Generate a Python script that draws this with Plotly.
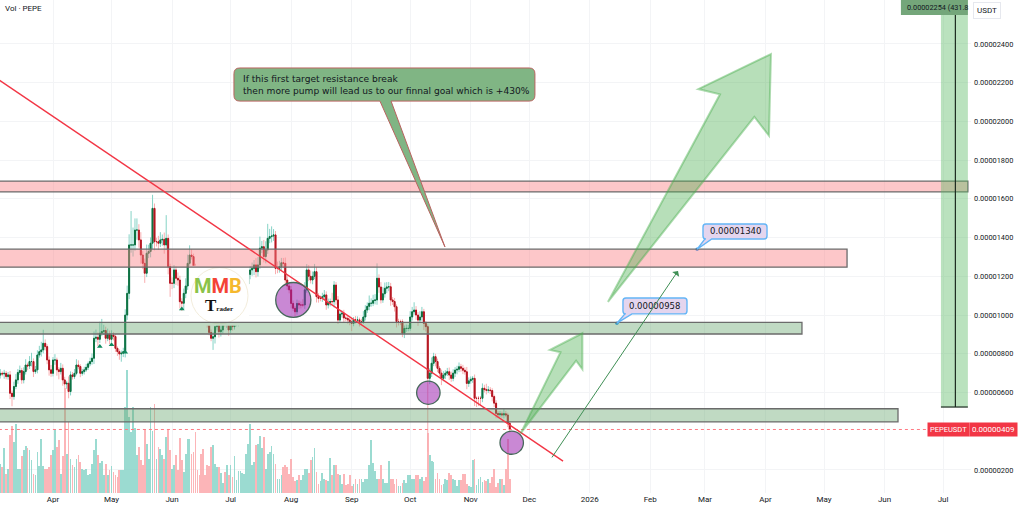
import plotly.graph_objects as go
import pandas as pd

# prices are in units of 0.00000001 USDT
BASE = pd.Timestamp("2025-03-05")
ORIGIN = pd.Timestamp("2025-04-01")

close = [
 699,696,699,682,691,596,579,631,665,703,
 713,665,708,742,737,760,760,708,717,794,
 811,820,854,837,768,717,699,768,768,717,
 708,725,665,644,648,605,691,682,699,742,
 734,699,708,717,730,748,760,777,880,885,
 875,906,915,920,880,902,875,897,889,828,
 811,799,803,811,1000,1112,1362,1362,1362,1439,
 1439,1388,1310,1267,1216,1319,1328,1371,1551,1379,
 1379,1371,1388,1391,1362,1396,1250,1164,1164,1233,
 1190,1181,1069,1061,1112,1150,1267,1310,1302,1250,
 1190,1130,1100,1060,1020,990,950,910,880,888,
 940,957,914,923,957,954,957,923,957,940,
 957,957,1000,1040,1080,1120,1160,1210,1233,1241,
 1259,1224,1259,1345,1353,1302,1336,1396,1405,1408,
 1414,1241,1241,1250,1270,1267,1181,1150,1130,1060,
 1035,1017,1060,1052,1052,1052,1130,1233,1200,1181,
 1200,1224,1095,1086,1086,1095,1104,1052,1065,1070,
 1069,1155,1078,974,1005,1009,985,983,975,965,
 957,975,974,975,966,966,990,1026,1045,1061,
 1061,1075,1078,1190,1145,1078,1110,1138,1145,1146,
 1078,1070,1043,966,966,966,906,931,931,931,
 990,1017,1026,1000,974,990,1017,957,940,673,
 700,751,785,760,725,700,673,690,700,707,
 690,673,700,716,720,733,725,715,707,647,
 660,668,673,570,570,570,570,622,615,612,
 613,610,579,545,492,485,490,484,490,484,
 441,409,
]
first_open = 690

upper_wick = [
 22,10,18,12,15,20,14,25,30,18,
 26,14,22,30,12,28,45,16,20,24,
 30,42,70,20,12,18,25,15,30,12,
 14,28,20,16,12,35,18,15,22,30,
 24,12,14,16,18,12,20,25,35,40,
 25,60,65,30,20,28,18,24,14,12,
 10,12,14,20,30,40,55,175,90,60,
 60,30,40,20,25,45,35,30,70,25,
 20,30,40,25,35,120,20,15,30,25,
 18,30,22,18,25,40,45,50,30,15,
 15,15,15,15,15,15,15,15,15,25,
 20,25,20,25,30,20,15,20,15,25,
 20,15,15,15,15,15,15,15,20,30,
 25,35,40,60,30,35,45,75,40,50,
 30,20,35,30,25,25,30,25,18,20,
 15,12,20,15,18,30,40,30,25,30,
 25,40,25,18,15,20,25,18,20,15,
 45,20,15,20,18,15,18,12,15,12,
 18,15,20,18,12,15,30,25,20,40,
 25,30,30,77,20,25,35,30,25,25,
 20,15,18,12,15,10,12,15,20,18,
 30,25,40,20,15,30,25,15,12,12,
 25,30,20,15,15,12,18,20,15,20,
 22,18,20,15,18,22,15,18,15,25,
 18,15,12,20,10,12,12,25,18,30,
 20,15,12,10,15,12,15,12,25,15,
 12,10,
]
lower_wick = [
 18,12,25,14,16,30,50,16,14,20,
 12,20,18,15,22,16,25,28,12,18,
 14,25,18,20,22,30,18,16,25,30,
 40,15,30,20,25,35,20,15,12,10,
 14,20,12,15,10,14,12,16,30,20,
 35,20,15,18,28,15,25,14,20,18,
 22,30,40,20,30,25,30,40,60,30,
 50,40,45,30,50,20,25,30,30,45,
 25,35,20,30,45,25,40,70,30,25,
 35,30,35,40,30,25,20,30,15,15,
 15,15,15,15,15,15,15,15,15,60,
 35,20,30,25,18,15,20,30,15,20,
 15,15,15,15,15,15,15,15,25,30,
 35,30,25,20,25,30,35,20,25,30,
 25,30,25,22,18,25,30,20,18,25,
 15,22,15,20,18,12,20,15,25,18,
 22,15,30,22,15,18,15,25,18,20,
 15,30,25,20,15,18,25,15,20,18,
 40,15,18,12,25,15,12,18,15,20,
 18,15,20,25,30,18,15,20,25,22,
 30,18,25,30,20,18,20,25,18,15,
 12,18,15,25,30,15,20,35,25,380,
 30,20,15,25,20,18,35,15,20,15,
 25,18,15,20,22,15,18,20,15,30,
 18,15,18,40,45,40,40,20,15,22,
 15,18,25,20,25,18,12,15,18,12,
 20,15,
]
volume = [
 29,26,45,19,24,58,67,51,69,24,
 24,37,43,47,45,43,33,19,18,41,
 27,54,27,24,24,26,38,43,64,46,
 53,19,37,105,39,71,34,28,26,34,
 38,31,24,23,24,18,19,29,43,54,
 38,30,32,18,29,18,23,27,21,18,
 16,23,23,23,86,123,76,61,86,65,
 38,46,33,28,64,49,34,86,62,89,
 34,46,44,38,34,56,64,43,24,28,
 38,23,55,33,21,39,54,54,39,41,
 61,23,18,39,44,18,28,27,46,48,
 29,26,26,20,10,21,28,18,28,16,
 37,13,22,22,20,19,39,49,69,28,
 31,48,49,57,45,56,24,39,41,47,
 39,29,14,14,18,26,28,26,19,34,
 16,12,13,18,13,18,24,24,20,33,
 36,45,21,9,12,20,14,13,12,35,
 18,28,28,19,18,9,19,8,9,18,
 7,9,14,9,14,14,11,14,14,28,
 53,30,22,14,14,28,14,10,10,32,
 14,14,9,14,7,7,10,13,10,18,
 18,14,14,18,18,14,16,12,16,60,
 38,32,31,14,20,14,8,9,14,13,
 20,18,14,13,7,13,13,19,19,9,
 7,6,33,34,8,14,16,11,13,12,
 14,10,16,24,6,10,14,14,8,24,
 54,14,
]
n = min(len(close), len(upper_wick), len(lower_wick), len(volume))
close, upper_wick, lower_wick, volume = close[:n], upper_wick[:n], lower_wick[:n], volume[:n]

signal_index = [51, 57, 64, 93, 99]
signal_price = [837, 846, 808, 1031, 1112]

price_ticks = [200,600,800,1000,1200,1400,1600,1800,2000,2200,2400]
month_ticks = ["2025-04-01","2025-05-01","2025-06-01","2025-07-01","2025-08-01","2025-09-01","2025-10-01",
               "2025-11-01","2025-12-01","2026-01-01","2026-02-01","2026-03-01","2026-04-01","2026-05-01",
               "2026-06-01","2026-07-01"]
month_labels = ["Apr","May","Jun","Jul","Aug","Sep","Oct","Nov","Dec","2026","Feb","Mar","Apr","May","Jun","Jul"]

# drawing tools: (days after 2025-04-01, price)
RIGHT_EDGE = 468.7
zones = [  # right day, low, high, fill
 (RIGHT_EDGE, 1636, 1692, "rgba(250,130,135,0.45)"),
 (406.8, 1247, 1340, "rgba(250,130,135,0.45)"),
 (383.7, 902, 962, "rgba(110,170,115,0.43)"),
 (432.9, 448, 516, "rgba(110,170,115,0.43)"),
]
big_arrow = [(284.3,1068),(341.7,2140),(330.6,2167),(367.8,2348),(366.8,1926),(359.3,2024)]
small_arrow = [(239.6,389),(260,808),(254.6,820),(271.2,906),(271.2,720),(268,764)]
circles = [(123.1,1078,9,90),(192.3,599,6,60),(235,341,6,60)]
trend_line = [(-30,2230),(261.3,246)]
thin_arrow = [(255.1,257),(320.2,1228)]
callout = (92.7,246.9,2105,2276)
callout_tail = [(173.2,2105),(200.8,1352),(167.5,2105)]
tag_high = (333,365.8,1393,1470)
tag_high_tail = [(337.5,1393),(330,1340),(334,1393)]
tag_low = (292,324.8,1006,1088)
tag_low_tail = [(296.6,1006),(288.9,958),(293,1006)]
last_price = 409

def D(d):
    return (ORIGIN + pd.Timedelta(days=d)).strftime("%Y-%m-%d %H:%M:%S")
def Dp(d):
    return D(d).replace(" ", "_")

def poly(pts):
    return "M " + " L ".join(f"{Dp(a)} {b}" for a, b in pts) + " Z"

def rounded(box, rx, ry, tail=None):
    a, b, lo, hi = box
    p = [f"M {Dp(a+rx)} {hi}", f"L {Dp(b-rx)} {hi}", f"Q {Dp(b)} {hi} {Dp(b)} {hi-ry}",
         f"L {Dp(b)} {lo+ry}", f"Q {Dp(b)} {lo} {Dp(b-rx)} {lo}"]
    for t in (tail or []):
        p.append(f"L {Dp(t[0])} {t[1]}")
    p += [f"L {Dp(a+rx)} {lo}", f"Q {Dp(a)} {lo} {Dp(a)} {lo+ry}", f"L {Dp(a)} {hi-ry}",
          f"Q {Dp(a)} {hi} {Dp(a+rx)} {hi}", "Z"]
    return " ".join(p)

dates = [BASE + pd.Timedelta(days=i) for i in range(n)]
opens = [first_open] + close[:-1]
highs = [max(o, c) + w for o, c, w in zip(opens, close, upper_wick)]
lows = [min(o, c) - w for o, c, w in zip(opens, close, lower_wick)]
body_hi = [max(o, c) for o, c in zip(opens, close)]
body_lo = [min(o, c) for o, c in zip(opens, close)]
vol_colors = ["#8ad5ca" if c >= o else "#fca9ac" for o, c in zip(opens, close)]

fig = go.Figure()
fig.add_trace(go.Bar(x=dates, y=volume, width=0.38*86400000, opacity=0.85,
                     marker=dict(color=vol_colors, line_width=0),
                     yaxis="y", showlegend=False, hoverinfo="skip"))
fig.add_trace(go.Candlestick(x=dates, open=opens, high=highs, low=lows, close=close, yaxis="y2", whiskerwidth=0,
    increasing=dict(line=dict(color="#86d3c6", width=1), fillcolor="#86d3c6"),
    decreasing=dict(line=dict(color="#f9aeb0", width=1), fillcolor="#f9aeb0"),
    showlegend=False, hoverinfo="skip"))
fig.add_trace(go.Candlestick(x=dates, open=opens, high=body_hi, low=body_lo, close=close, yaxis="y2", whiskerwidth=0,
    increasing=dict(line=dict(color="#0d7040", width=1), fillcolor="#0d7040"),
    decreasing=dict(line=dict(color="#b3141f", width=1), fillcolor="#b3141f"),
    showlegend=False, hoverinfo="skip"))
fig.add_trace(go.Scatter(x=[dates[i] for i in signal_index], y=signal_price, mode="markers", yaxis="y2",
    marker=dict(symbol="triangle-up", size=5, color="#0f8a5f"), showlegend=False, hoverinfo="skip"))

shapes = []
def S(**k):
    k.setdefault("xref", "x"); k.setdefault("yref", "y2"); k.setdefault("layer", "above")
    shapes.append(k)

# white logo backing
S(type="rect", x0=D((189-53)/1.952), x1=D((249-53)/1.952), y0=945, y1=1255, fillcolor="white", line_width=0)
S(type="circle", x0=D((191-53)/1.952), x1=D((248-53)/1.952), y0=955, y1=1245, fillcolor="white",
  line=dict(color="#f3eddc", width=1))

# zones
for right, lo, hi, fill in zones:
    S(type="rect", x0=D(-40), x1=D(right), y0=lo, y1=hi, fillcolor=fill, line=dict(color="#6b6b6b", width=1.3))

# target column
S(type="rect", x0=D(454.9), x1=D(RIGHT_EDGE), y0=525, y1=2700, fillcolor="rgba(90,185,100,0.42)", line_width=0)
S(type="line", x0=D(462.3), x1=D(462.3), y0=525, y1=2700, line=dict(color="#1c2a1f", width=1.2))
S(type="line", x0=D(454.9), x1=D(RIGHT_EDGE), y0=525, y1=525, line=dict(color="#1c2a1f", width=1.2))
S(type="rect", x0=D(434.4), x1=D(RIGHT_EDGE), y0=2550, y1=2700, fillcolor="#74a67a", line_width=0)

# last price dotted
S(type="line", x0=D(-40), x1=D(448), y0=last_price, y1=last_price, line=dict(color="#ff7b84", width=1, dash="dot"))

# trend line
S(type="line", x0=D(trend_line[0][0]), y0=trend_line[0][1], x1=D(trend_line[1][0]), y1=trend_line[1][1],
  line=dict(color="#f23645", width=1.4))

# arrows
for pts in (big_arrow, small_arrow):
    S(type="path", path=poly(pts), fillcolor="rgba(76,175,80,0.40)", line=dict(color="rgba(76,175,80,0.45)", width=2))

# circles
for d, p, rx, ry in circles:
    S(type="circle", x0=D(d-rx), x1=D(d+rx), y0=p-ry, y1=p+ry, fillcolor="rgba(156,39,176,0.55)",
      line=dict(color="#46685a", width=1.3))

# callout
S(type="path", path=rounded(callout, 3, 30, callout_tail), fillcolor="#80b584", line=dict(color="#b9625f", width=1))
# price tags
for box, tail in ((tag_high, tag_high_tail), (tag_low, tag_low_tail)):
    S(type="path", path=rounded(box, 1.5, 15, tail), fillcolor="#e4d5ee", line=dict(color="#64b5f6", width=1.4))

fig.add_trace(go.Scatter(x=[D(tag_high_tail[1][0]), D(tag_low_tail[1][0])], y=[tag_high_tail[1][1], tag_low_tail[1][1]],
    mode="markers", yaxis="y2", marker=dict(size=3.5, color="#2196f3"), showlegend=False, hoverinfo="skip"))

ann = []
F = "Roboto"
def A(text, x, y, size=8, color="#131722", xanchor="left", yanchor="middle", xref="x", yref="y2", **k):
    ann.append(dict(text=text, x=x, y=y, xref=xref, yref=yref, xanchor=xanchor, yanchor=yanchor, showarrow=False,
                    font=dict(family=k.pop("family", F), size=size, color=color), **k))

A("Vol · PEPE", 3/971, 1-9/493, size=8, xref="paper", yref="paper")
A("If this first target resistance break<br>then more pump will lead us to our finnal goal which is +430%",
  D(96.3), 2190, size=9.1, align="left", family="DejaVu Sans")
A("0.00001340", D(349.4), 1432, size=8.5, xanchor="center", family="DejaVu Sans")
A("0.00000958", D(308.4), 1047, size=8.5, xanchor="center", family="DejaVu Sans")
A("0.00002254 (431.8", D(436.4), 2590, size=7.3)
A("PEPEUSDT", 927/971, last_price, size=7.5, color="white", xref="paper", bgcolor="#f23645", borderpad=2)
A(f"{last_price*1e-8:.8f}", 969/971, last_price, size=8, color="white", xref="paper", bgcolor="#f23645", borderpad=2)
A("USDT", 973/971, 1-11/493, size=8, xref="paper", yref="paper", bgcolor="white", bordercolor="#e6e8ee",
  borderwidth=1, borderpad=3)
# logo lettering
A('<b><span style="color:#8bc34a">M</span><span style="color:#f44336">M</span><span style="color:#f5b82e">B</span></b>',
  D((218-53)/1.952), 1152, size=20, xanchor="center")
A('<b>T</b><span style="font-size:7px"><b>rader</b></span>', D((219-53)/1.952), 1050, size=17, color="#111",
  xanchor="center", family="Liberation Serif")

# thin arrow
ann.append(dict(x=D(thin_arrow[1][0]), y=thin_arrow[1][1], xref="x", yref="y2", axref="x", ayref="y2",
                ax=D(thin_arrow[0][0]), ay=thin_arrow[0][1], text="", showarrow=True, arrowhead=1, arrowsize=1.4,
                arrowwidth=1, arrowcolor="#3f8f55"))

fig.update_layout(
    width=1024, height=510, margin=dict(l=0, r=53, t=0, b=17), autosize=False,
    paper_bgcolor="white", plot_bgcolor="white", showlegend=False, bargap=0,
    font=dict(family=F, size=8, color="#131722"),
    xaxis=dict(type="date", range=[D(-27.15), D(470.3)], rangeslider=dict(visible=False),
               tickmode="array", tickvals=month_ticks, ticktext=month_labels, ticks="", showline=False,
               gridcolor="#f3f4f6", gridwidth=1, zeroline=False, tickfont=dict(size=8), tickangle=0),
    yaxis=dict(range=[0, 493], visible=False, fixedrange=True),
    yaxis2=dict(range=[81, 2627], overlaying="y", side="right", tickmode="array", tickvals=price_ticks,
                ticktext=[f"{v*1e-8:.8f}" for v in price_ticks], ticks="", showline=False, ticklabelstandoff=2,
                gridcolor="#f3f4f6", gridwidth=1, zeroline=False, tickfont=dict(size=7.4)),
    shapes=shapes, annotations=ann,
)
fig.write_html("out.html", config={"displayModeBar": False},
               post_script="document.body.style.margin='0';document.documentElement.style.overflow='hidden';")
